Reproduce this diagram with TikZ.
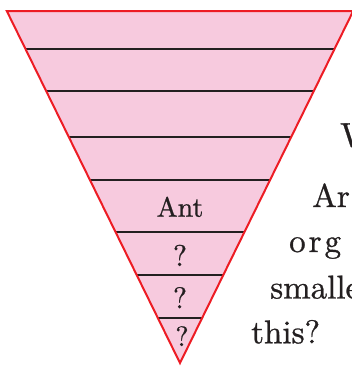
\documentclass[tikz,border=0pt]{standalone}
\usepackage{fontspec}
\setmainfont{lmroman10-regular.otf}[FakeBold=0.8]
\usetikzlibrary{calc}
\definecolor{pyrpink}{RGB}{247,202,222}
\definecolor{pyrred}{RGB}{237,28,36}
\definecolor{pyrdark}{RGB}{35,31,32}
\tikzset{
  band/.style={draw=pyrdark, line width=2.2pt},
  outline/.style={draw=pyrred, line width=2pt, line join=miter, fill=pyrpink},
  lbl/.style={inner sep=0pt, anchor=base, text=pyrdark},
  side/.style={inner sep=0pt, anchor=base west, text=pyrdark, font=\fontsize{33}{38}\selectfont},
}
\begin{document}
\begin{tikzpicture}[x=1pt,y=-1pt]
\useasboundingbox (0,0) rectangle (352,367);
\coordinate (tl) at (6.8,11);
\coordinate (tr) at (353.2,11);
\coordinate (ap) at (180,363);
\fill[pyrpink] (tl) -- (tr) -- (ap) -- cycle;
\foreach \yy/\nm in {49/a,91/b,137/c,180/d,232/e,275/f,318/g}{
  \coordinate (l\nm) at ($(tl)!{(\yy-11)/352}!(ap)$);
  \coordinate (r\nm) at ($(tr)!{(\yy-11)/352}!(ap)$);
  \draw[band] (l\nm) -- (r\nm);
}
\draw[outline, fill=none] (tl) -- (tr) -- (ap) -- cycle;
\node[lbl, font=\fontsize{28}{32}\selectfont] (ant) at (180,216.7) {Ant};
\node[lbl, font=\fontsize{30}{34}\selectfont] (q1) at (180,266) {?};
\node[lbl, font=\fontsize{30}{34}\selectfont] (q2) at (180,308.3) {?};
\node[lbl, font=\fontsize{28}{32}\selectfont] (q3) at (182,346) {?};
\begin{scope}
\clip (0,0) rectangle (352,367);
\node[side, font=\fontsize{34}{38}\selectfont] (w) at (340,146.5) {W};
\node[side] (t1) at (312,207) {Ar};
\node[side] (t2) at (289,252) {{\spaceskip=3pt o r g}};
\node[side] (t3) at (270,298.5) {smalle};
\node[side] (t4) at (251,343.3) {this?};
\end{scope}
\end{tikzpicture}
\end{document}
